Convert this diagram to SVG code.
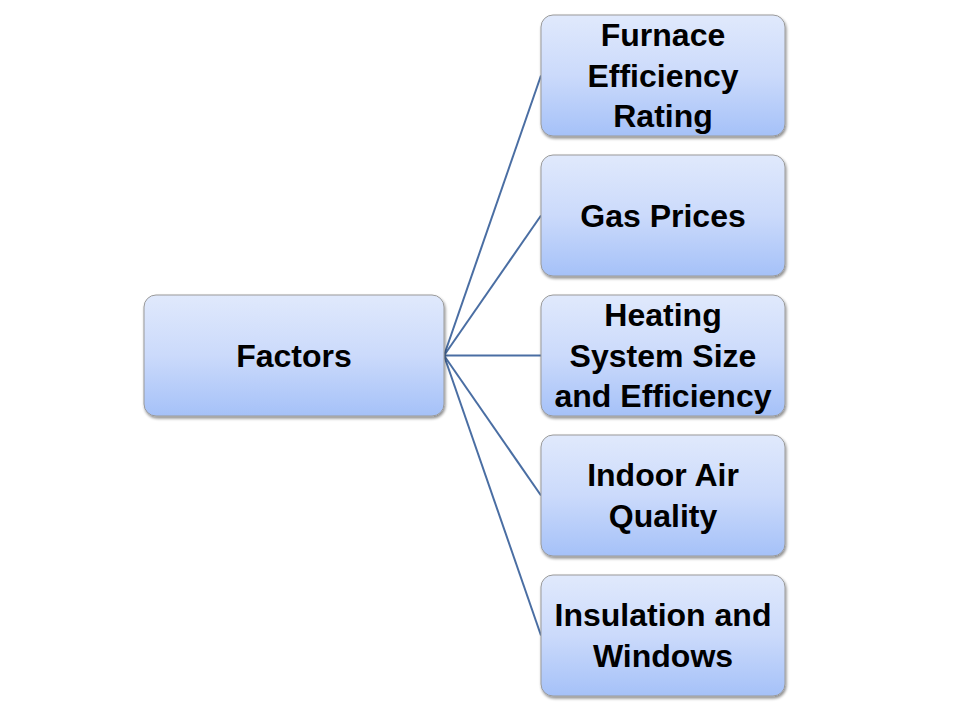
<svg xmlns="http://www.w3.org/2000/svg" width="960" height="720" viewBox="0 0 960 720">
<defs>
<linearGradient id="g" x1="0" y1="0" x2="0" y2="1">
<stop offset="0" stop-color="#e0e9fc"/>
<stop offset="0.5" stop-color="#cbdafb"/>
<stop offset="1" stop-color="#a5c1f8"/>
</linearGradient>
<filter id="sh" x="-10%" y="-10%" width="120%" height="130%">
<feGaussianBlur in="SourceAlpha" stdDeviation="1.5"/>
<feOffset dx="1" dy="2" result="b"/>
<feComponentTransfer><feFuncA type="linear" slope="0.45"/></feComponentTransfer>
<feMerge><feMergeNode/><feMergeNode in="SourceGraphic"/></feMerge>
</filter>
</defs>
<style>
.box{fill:url(#g);stroke:#9a9a9a;stroke-width:1;filter:url(#sh)}
.t{font-family:"Liberation Sans",Arial,sans-serif;font-weight:bold;font-size:32px;fill:#000;text-anchor:middle}
.c{stroke:#4a6ea3;stroke-width:2;fill:none}
</style>
<rect width="960" height="720" fill="#fff"/>
<g id="connectors">
<line class="c" x1="444" y1="355.5" x2="541" y2="75.5"/>
<line class="c" x1="444" y1="355.5" x2="541" y2="215.5"/>
<line class="c" x1="444" y1="355.5" x2="541" y2="355.5"/>
<line class="c" x1="444" y1="355.5" x2="541" y2="495.5"/>
<line class="c" x1="444" y1="355.5" x2="541" y2="635.5"/>
</g>
<g id="factors">
<rect class="box" x="144" y="295" width="300" height="121" rx="12"/>
<text class="t" x="294" y="367">Factors</text>
</g>
<g id="furnace">
<rect class="box" x="541" y="15" width="244" height="121" rx="12"/>
<text class="t" x="663" y="46">Furnace</text>
<text class="t" x="663" y="87">Efficiency</text>
<text class="t" x="663" y="127">Rating</text>
</g>
<g id="gas">
<rect class="box" x="541" y="155" width="244" height="121" rx="12"/>
<text class="t" x="663" y="227">Gas Prices</text>
</g>
<g id="heating">
<rect class="box" x="541" y="295" width="244" height="121" rx="12"/>
<text class="t" x="663" y="326">Heating</text>
<text class="t" x="663" y="367">System Size</text>
<text class="t" x="663" y="407">and Efficiency</text>
</g>
<g id="indoor">
<rect class="box" x="541" y="435" width="244" height="121" rx="12"/>
<text class="t" x="663" y="486">Indoor Air</text>
<text class="t" x="663" y="527">Quality</text>
</g>
<g id="insulation">
<rect class="box" x="541" y="575" width="244" height="121" rx="12"/>
<text class="t" x="663" y="626">Insulation and</text>
<text class="t" x="663" y="667">Windows</text>
</g>
</svg>
